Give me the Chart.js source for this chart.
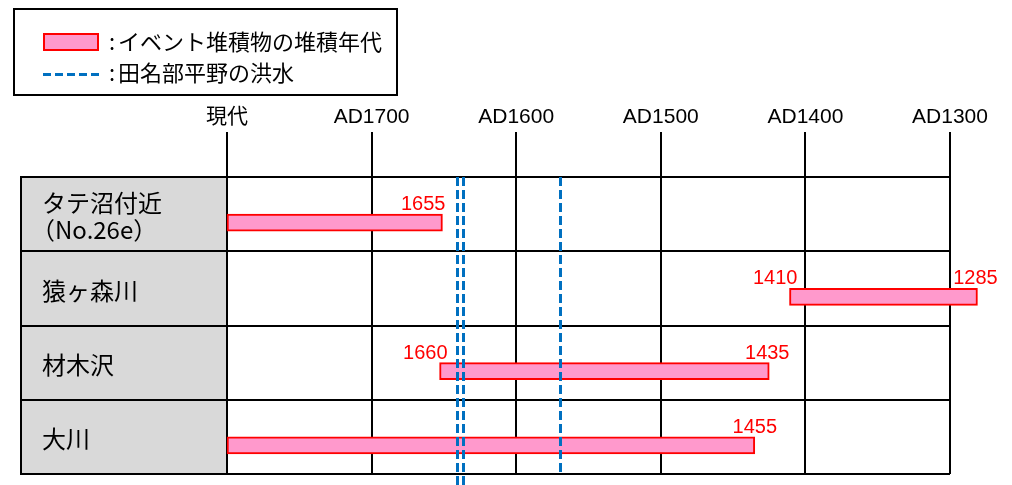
<!DOCTYPE html>
<html>
<head>
<meta charset="utf-8">
<script src="https://cdn.jsdelivr.net/npm/chart.js@4"></script>
<style>
  html, body { margin: 0; padding: 0; background: #fff; }
</style>
</head>
<body>
<canvas id="chart" width="1012" height="485"></canvas>
<script>
const SITES = [['タテ沼付近', '（No.26e）'], '猿ヶ森川', '材木沢', '大川'];
const BAR_FROM = [1800, 1411, 1653, 1800];
const BAR_TO = [1651, 1281, 1425, 1435];
const FROM_LABELS = ['', '1410', '1660', ''];
const TO_LABELS = ['1655', '1285', '1435', '1455'];
const FLOOD_YEARS = [1641, 1637, 1570];
const AXIS_TICKS = [1800, 1700, 1600, 1500, 1400, 1300];
const AXIS_LABELS = ['現代', 'AD1700', 'AD1600', 'AD1500', 'AD1400', 'AD1300'];
const LEGEND_TEXT = ['イベント堆積物の堆積年代', '田名部平野の洪水'];

const PINK = '#ff99cc';
const RED = '#ff0000';
const BLUE = '#0070c0';
const GREY = '#d9d9d9';
const LATIN = '"Liberation Sans", Arial, "Noto Sans CJK JP", sans-serif';
const CJK = '"Noto Sans CJK JP", sans-serif';

// the two close flood lines run on below the table
const FLOOD_RUN_OFF = [true, true, false];
// where each red year sits relative to its bar end
const TO_ALIGN = ['right', 'center', 'center', 'center'];
const TO_SHIFT = [3, -2, -2, 0];

const overlay = {
  id: 'overlay',
  beforeDraw(chart) {
    const { ctx, chartArea, scales: { y } } = chart;
    ctx.save();
    ctx.fillStyle = GREY;
    ctx.fillRect(y.left, chartArea.top, y.right - y.left, chartArea.bottom - chartArea.top);
    ctx.restore();
  },
  afterDatasetsDraw(chart) {
    const { ctx, chartArea, scales: { x } } = chart;

    ctx.save();
    ctx.strokeStyle = BLUE;
    ctx.lineWidth = 3;
    ctx.setLineDash([9, 4]);
    FLOOD_YEARS.forEach((year, i) => {
      const px = Math.round(x.getPixelForValue(year)) + 0.5;
      const bottom = FLOOD_RUN_OFF[i] ? chart.height : chartArea.bottom;
      ctx.beginPath();
      ctx.moveTo(px, chartArea.top);
      ctx.lineTo(px, bottom);
      ctx.stroke();
    });
    ctx.restore();

    const meta = chart.getDatasetMeta(1);
    ctx.save();
    ctx.fillStyle = RED;
    ctx.font = '20px ' + LATIN;
    ctx.textBaseline = 'alphabetic';
    meta.data.forEach((bar, i) => {
      const baseline = bar.y - bar.height / 2 - 4;
      if (FROM_LABELS[i]) {
        ctx.textAlign = 'right';
        ctx.fillText(FROM_LABELS[i], x.getPixelForValue(BAR_FROM[i]) + 8, baseline);
      }
      if (TO_LABELS[i]) {
        ctx.textAlign = TO_ALIGN[i];
        ctx.fillText(TO_LABELS[i], x.getPixelForValue(BAR_TO[i]) + TO_SHIFT[i], baseline);
      }
    });
    ctx.restore();
  },
  afterDraw(chart) {
    const { ctx, chartArea, scales: { y } } = chart;

    // left edge of the site column
    ctx.save();
    ctx.strokeStyle = '#000';
    ctx.lineWidth = 2;
    ctx.beginPath();
    ctx.moveTo(y.left + 1, chartArea.top - 1);
    ctx.lineTo(y.left + 1, chartArea.bottom + 1);
    ctx.stroke();

    // site names
    ctx.fillStyle = '#000';
    ctx.font = '24px ' + CJK;
    ctx.textAlign = 'left';
    ctx.textBaseline = 'middle';
    SITES.forEach((site, i) => {
      const cy = y.getPixelForValue(i) + 2;
      const lines = Array.isArray(site) ? site : [site];
      lines.forEach((line, k) => {
        const off = (k - (lines.length - 1) / 2) * 27;
        // full-width bracket carries its own left gap
        const dx = line.startsWith('（') ? -11 : 0;
        ctx.fillText(line, y.left + 22 + dx, cy + off);
      });
    });

    // legend box
    ctx.lineWidth = 2;
    ctx.strokeRect(14, 9, 383, 86);
    ctx.fillStyle = PINK;
    ctx.fillRect(44, 34, 54, 16);
    ctx.strokeStyle = RED;
    ctx.strokeRect(44, 34, 54, 16);
    ctx.strokeStyle = BLUE;
    ctx.lineWidth = 3;
    ctx.setLineDash([8, 4]);
    ctx.beginPath();
    ctx.moveTo(43, 74.5);
    ctx.lineTo(100, 74.5);
    ctx.stroke();
    ctx.setLineDash([]);
    ctx.fillStyle = '#000';
    ctx.font = '22px ' + CJK;
    ctx.textBaseline = 'middle';
    ctx.fillText(':', 109, 42);
    ctx.fillText(LEGEND_TEXT[0], 118, 42);
    ctx.fillText(':', 109, 73);
    ctx.fillText(LEGEND_TEXT[1], 118, 73);
    ctx.restore();
  }
};

new Chart(document.getElementById('chart'), {
  type: 'bar',
  data: {
    labels: SITES,
    datasets: [
      // empty slot above each bar, leaves room for the red years
      { data: SITES.map(() => null), barThickness: 17 },
      {
        data: BAR_FROM.map((from, i) => [from, BAR_TO[i]]),
        backgroundColor: PINK,
        borderColor: RED,
        borderWidth: 2,
        borderSkipped: false,
        barThickness: 17,
        clip: false
      }
    ]
  },
  options: {
    indexAxis: 'y',
    responsive: false,
    animation: false,
    layout: { padding: { left: 20, right: 62, top: 0, bottom: 11 } },
    plugins: { legend: { display: false }, tooltip: { enabled: false } },
    scales: {
      x: {
        type: 'linear',
        position: 'top',
        min: 1300,
        max: 1800,
        reverse: true,
        afterFit: (s) => { s.height = 177; },
        afterBuildTicks: (s) => { s.ticks = AXIS_TICKS.map((v) => ({ value: v })); },
        grid: { color: '#000', lineWidth: 2, tickLength: 45, tickColor: '#000', tickWidth: 2 },
        border: { color: '#000', width: 2 },
        ticks: {
          padding: 2,
          maxRotation: 0,
          autoSkip: false,
          color: '#000',
          font: { family: LATIN, size: 21 },
          callback: (v) => AXIS_LABELS[AXIS_TICKS.indexOf(v)]
        }
      },
      y: {
        type: 'category',
        offset: true,
        afterFit: (s) => { s.width = 207; },
        grid: { offset: true, color: '#000', lineWidth: 2, tickLength: 207, tickColor: '#000', tickWidth: 2 },
        border: { color: '#000', width: 2 },
        ticks: { display: false }
      }
    }
  },
  plugins: [overlay]
});
</script>
</body>
</html>
